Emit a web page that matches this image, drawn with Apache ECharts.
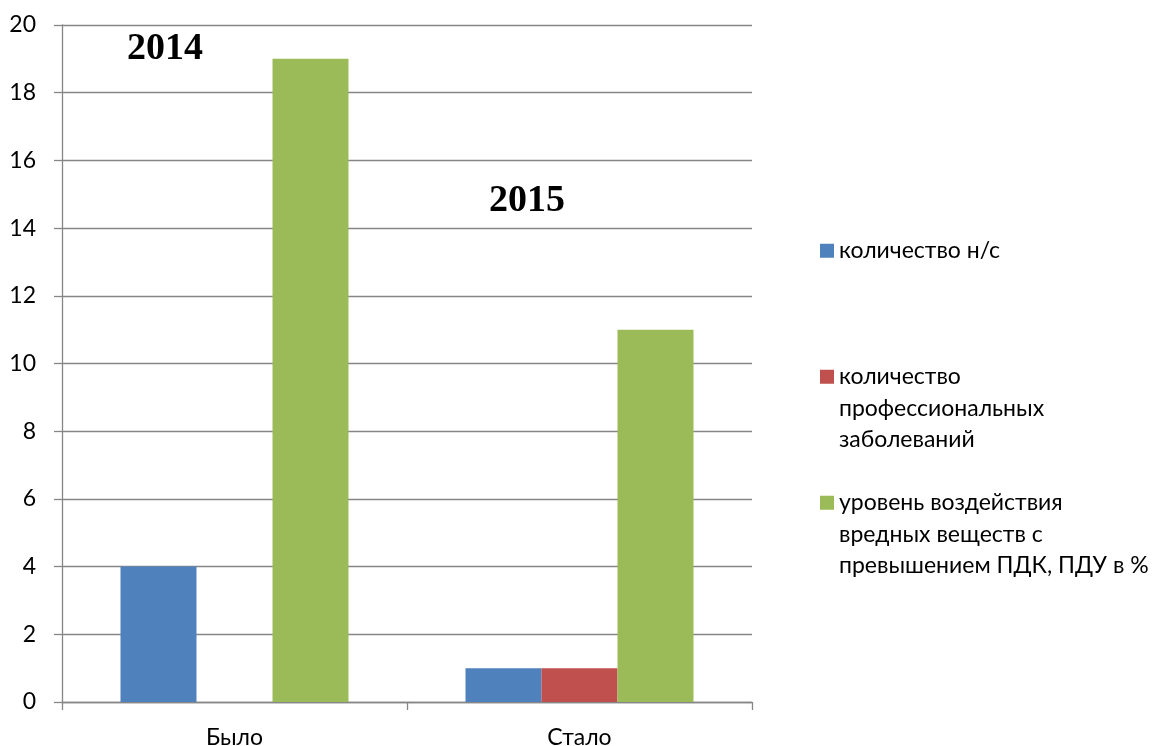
<!DOCTYPE html>
<html>
<head>
<meta charset="utf-8">
<script src="https://cdn.jsdelivr.net/npm/echarts@6/dist/echarts.min.js"></script>
<style>
html,body{margin:0;padding:0;background:#fff;}
#chart{width:1166px;height:746px;}
</style>
</head>
<body>
<div id="chart"></div>
<script>
var categories = ['Было', 'Стало'];
var seriesNames = ['количество н/с', 'количество\nпрофессиональных\nзаболеваний', 'уровень воздействия\nвредных веществ с\nпревышением ПДК, ПДУ в %'];
var accidents = [4, 1];
var diseases = [0, 1];
var exposure = [19, 11];
var yearLabels = ['2014', '2015'];

var colors = ['#4F81BD', '#C0504D', '#9BBB59'];
var font = 'Lato, "Open Sans", sans-serif';
var chart = echarts.init(document.getElementById('chart'), null, {renderer: 'canvas'});

function legendFor(i, top, lines) {
  return {
    orient: 'vertical',
    left: 820,
    top: top,
    padding: 0,
    data: [seriesNames[i]],
    icon: 'rect',
    itemWidth: 14,
    itemHeight: 14,
    itemGap: 0,
    selectedMode: false,
    formatter: function (name) {
      var pre = '';
      for (var k = 1; k < lines; k++) pre += '\n';
      return pre + name;
    },
    textStyle: {
      fontFamily: font,
      fontSize: 23,
      color: '#000',
      lineHeight: 31.5
    }
  };
}

var option = {
  animation: false,
  color: colors,
  grid: {left: 62, right: 414, top: 25, bottom: 44, outerBoundsMode: 'none', containLabel: false},
  legend: [
    legendFor(0, 235, 1),
    legendFor(1, 298, 3),
    legendFor(2, 424, 3)
  ],
  xAxis: {
    type: 'category',
    data: categories,
    axisLine: {lineStyle: {color: '#868686', width: 1.3}},
    axisTick: {show: true, length: 8, lineStyle: {color: '#868686', width: 1.3}},
    axisLabel: {fontFamily: font, fontSize: 23, color: '#000', margin: 24}
  },
  yAxis: {
    type: 'value',
    min: 0,
    max: 20,
    interval: 2,
    axisLine: {show: true, lineStyle: {color: '#868686', width: 1.3}},
    axisTick: {show: true, inside: false, length: 8, lineStyle: {color: '#868686', width: 1.3}},
    splitLine: {lineStyle: {color: '#868686', width: 1.3}},
    axisLabel: {fontFamily: font, fontSize: 23, color: '#000', margin: 26}
  },
  series: [
    {name: seriesNames[0], type: 'bar', data: accidents, barWidth: 76, barGap: '0%'},
    {name: seriesNames[1], type: 'bar', data: diseases, barWidth: 76, barGap: '0%'},
    {name: seriesNames[2], type: 'bar', data: exposure, barWidth: 76, barGap: '0%'}
  ],
  graphic: [
    {type: 'text', left: 127, top: 30, style: {text: yearLabels[0], font: 'bold 38px "Liberation Serif", serif', fill: '#000'}},
    {type: 'text', left: 489, top: 182, style: {text: yearLabels[1], font: 'bold 38px "Liberation Serif", serif', fill: '#000'}}
  ]
};
chart.setOption(option);
</script>
</body>
</html>
